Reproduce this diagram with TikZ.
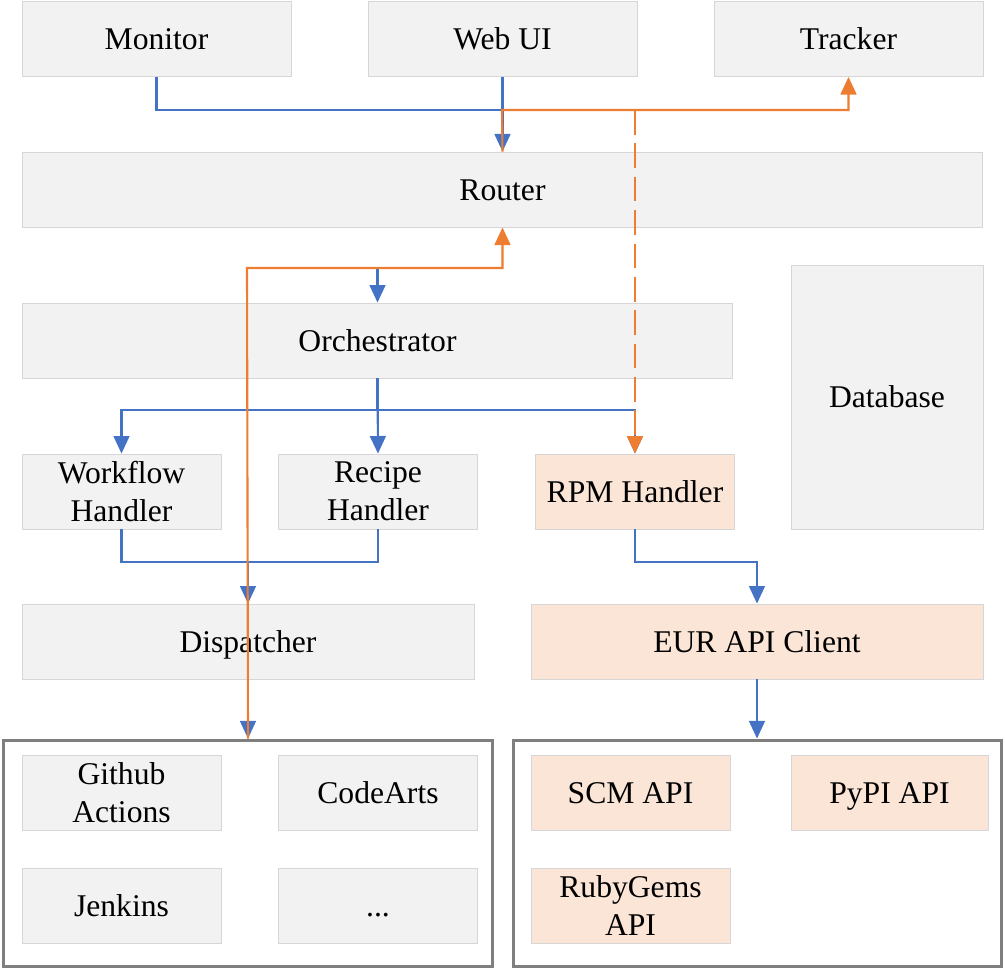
\documentclass[tikz,border=0pt]{standalone}
\usepackage{fontspec}
\setmainfont{Liberation Serif}
\usetikzlibrary{arrows.meta, positioning, calc}
\definecolor{boxgrey}{RGB}{242,242,242}
\definecolor{boxline}{RGB}{214,214,214}
\definecolor{peach}{RGB}{251,229,214}
\definecolor{linkblue}{RGB}{68,114,196}
\definecolor{linkorange}{RGB}{237,125,49}
\definecolor{framegrey}{RGB}{127,127,127}

\begin{document}
\begin{tikzpicture}[
    x=0.02cm, y=-0.02cm,
    comp/.style={draw=boxline, fill=boxgrey, line width=0.5pt,
        minimum width=3.98cm, minimum height=1.5cm, inner sep=2pt,
        text height=16pt, text depth=3.6pt,
        font=\fontsize{18}{21.5}\selectfont, align=center},
    ext/.style={comp, fill=peach},
    twoline/.style={text height=, text depth=},
    group/.style={draw=framegrey, line width=1.7pt, inner sep=0pt},
    blink/.style={draw=linkblue, line width=1.2pt},
    blarrow/.style={blink, -{Triangle[width=9pt,length=10pt]}},
    olink/.style={draw=linkorange, line width=1.2pt},
    olarrow/.style={olink, -{Triangle[width=9pt,length=10pt]}}
]
\useasboundingbox (0,0) rectangle (1005,970);

% top row
\node[comp, minimum width=5.38cm] (monitor) at (156.5,39) {Monitor};
\node[comp, minimum width=5.38cm] (webui) at (502.5,39) {Web UI};
\node[comp, minimum width=5.38cm] (tracker) at (848.5,39) {Tracker};

\node[comp, minimum width=19.22cm] (router) at (502.5,189.5) {Router};
\node[comp, minimum width=3.84cm, minimum height=5.28cm] (db) at (887,397) {Database};
\node[comp, minimum width=14.22cm] (orch) at (377.5,340.5) {Orchestrator};

% handlers
\node[comp, twoline] (workflow) at (121.5,491.5) {Workflow\\Handler};
\node[comp, twoline] (recipe) at (378,491.5) {Recipe\\Handler};
\node[ext] (rpm) at (635,491.5) {RPM Handler};

\node[comp, minimum width=9.04cm] (dispatcher) at (248,641.5) {Dispatcher};
\node[ext, minimum width=9.04cm] (eur) at (757,641.5) {EUR API Client};

% backends
\node[group, minimum width=9.8cm, minimum height=4.54cm] (ci) at (248,853.5) {};
\node[group, minimum width=9.78cm, minimum height=4.54cm] (apis) at (757.5,853.5) {};
\node[comp, twoline] (github) at (121.5,792.5) {Github\\Actions};
\node[comp] (codearts) at (378,792.5) {CodeArts};
\node[comp] (jenkins) at (121.5,905.5) {Jenkins};
\node[comp] (more) at (378,905.5) {...};
\node[ext] (scm) at (630.5,792.5) {SCM API};
\node[ext, minimum width=3.94cm] (pypi) at (889.5,792.5) {PyPI API};
\node[ext, twoline] (rubygems) at (630.5,905.5) {RubyGems\\API};

\coordinate (topjoin) at (502,110);
\coordinate (backjoin) at (247,268);

% blue links
\draw[blink] (monitor.south) |- (topjoin);
\draw[blarrow] (webui.south) -- (router.north);
\draw[blarrow] (orch.north |- backjoin) -- (orch.north);
\draw[blarrow] (orch.south) -- ++(0,32) -| (workflow.north);
\draw[blarrow] (orch.south) -- (recipe.north);
\draw[blarrow] (orch.south) -- ++(0,32) -| (rpm.north);
\draw[blink] (workflow.south) -- ++(0,33) -| (recipe.south);
\draw[blarrow] (dispatcher.north) ++(0,-42) -- (dispatcher.north);
\draw[blarrow] (rpm.south) -- ++(0,33) -| (eur.north);
\draw[blarrow] (dispatcher.south) -- (dispatcher.south |- ci.north);
\draw[blarrow] (eur.south) -- (eur.south |- apis.north);

% orange links
\draw[olarrow] (router.north) -- (topjoin) -| (tracker.south);
\draw[olarrow, dash pattern=on 14pt off 5pt] (rpm.north |- topjoin) -- (rpm.north);
\draw[olarrow] (ci.north) -- (backjoin) -| (router.south);

\end{tikzpicture}
\end{document}
